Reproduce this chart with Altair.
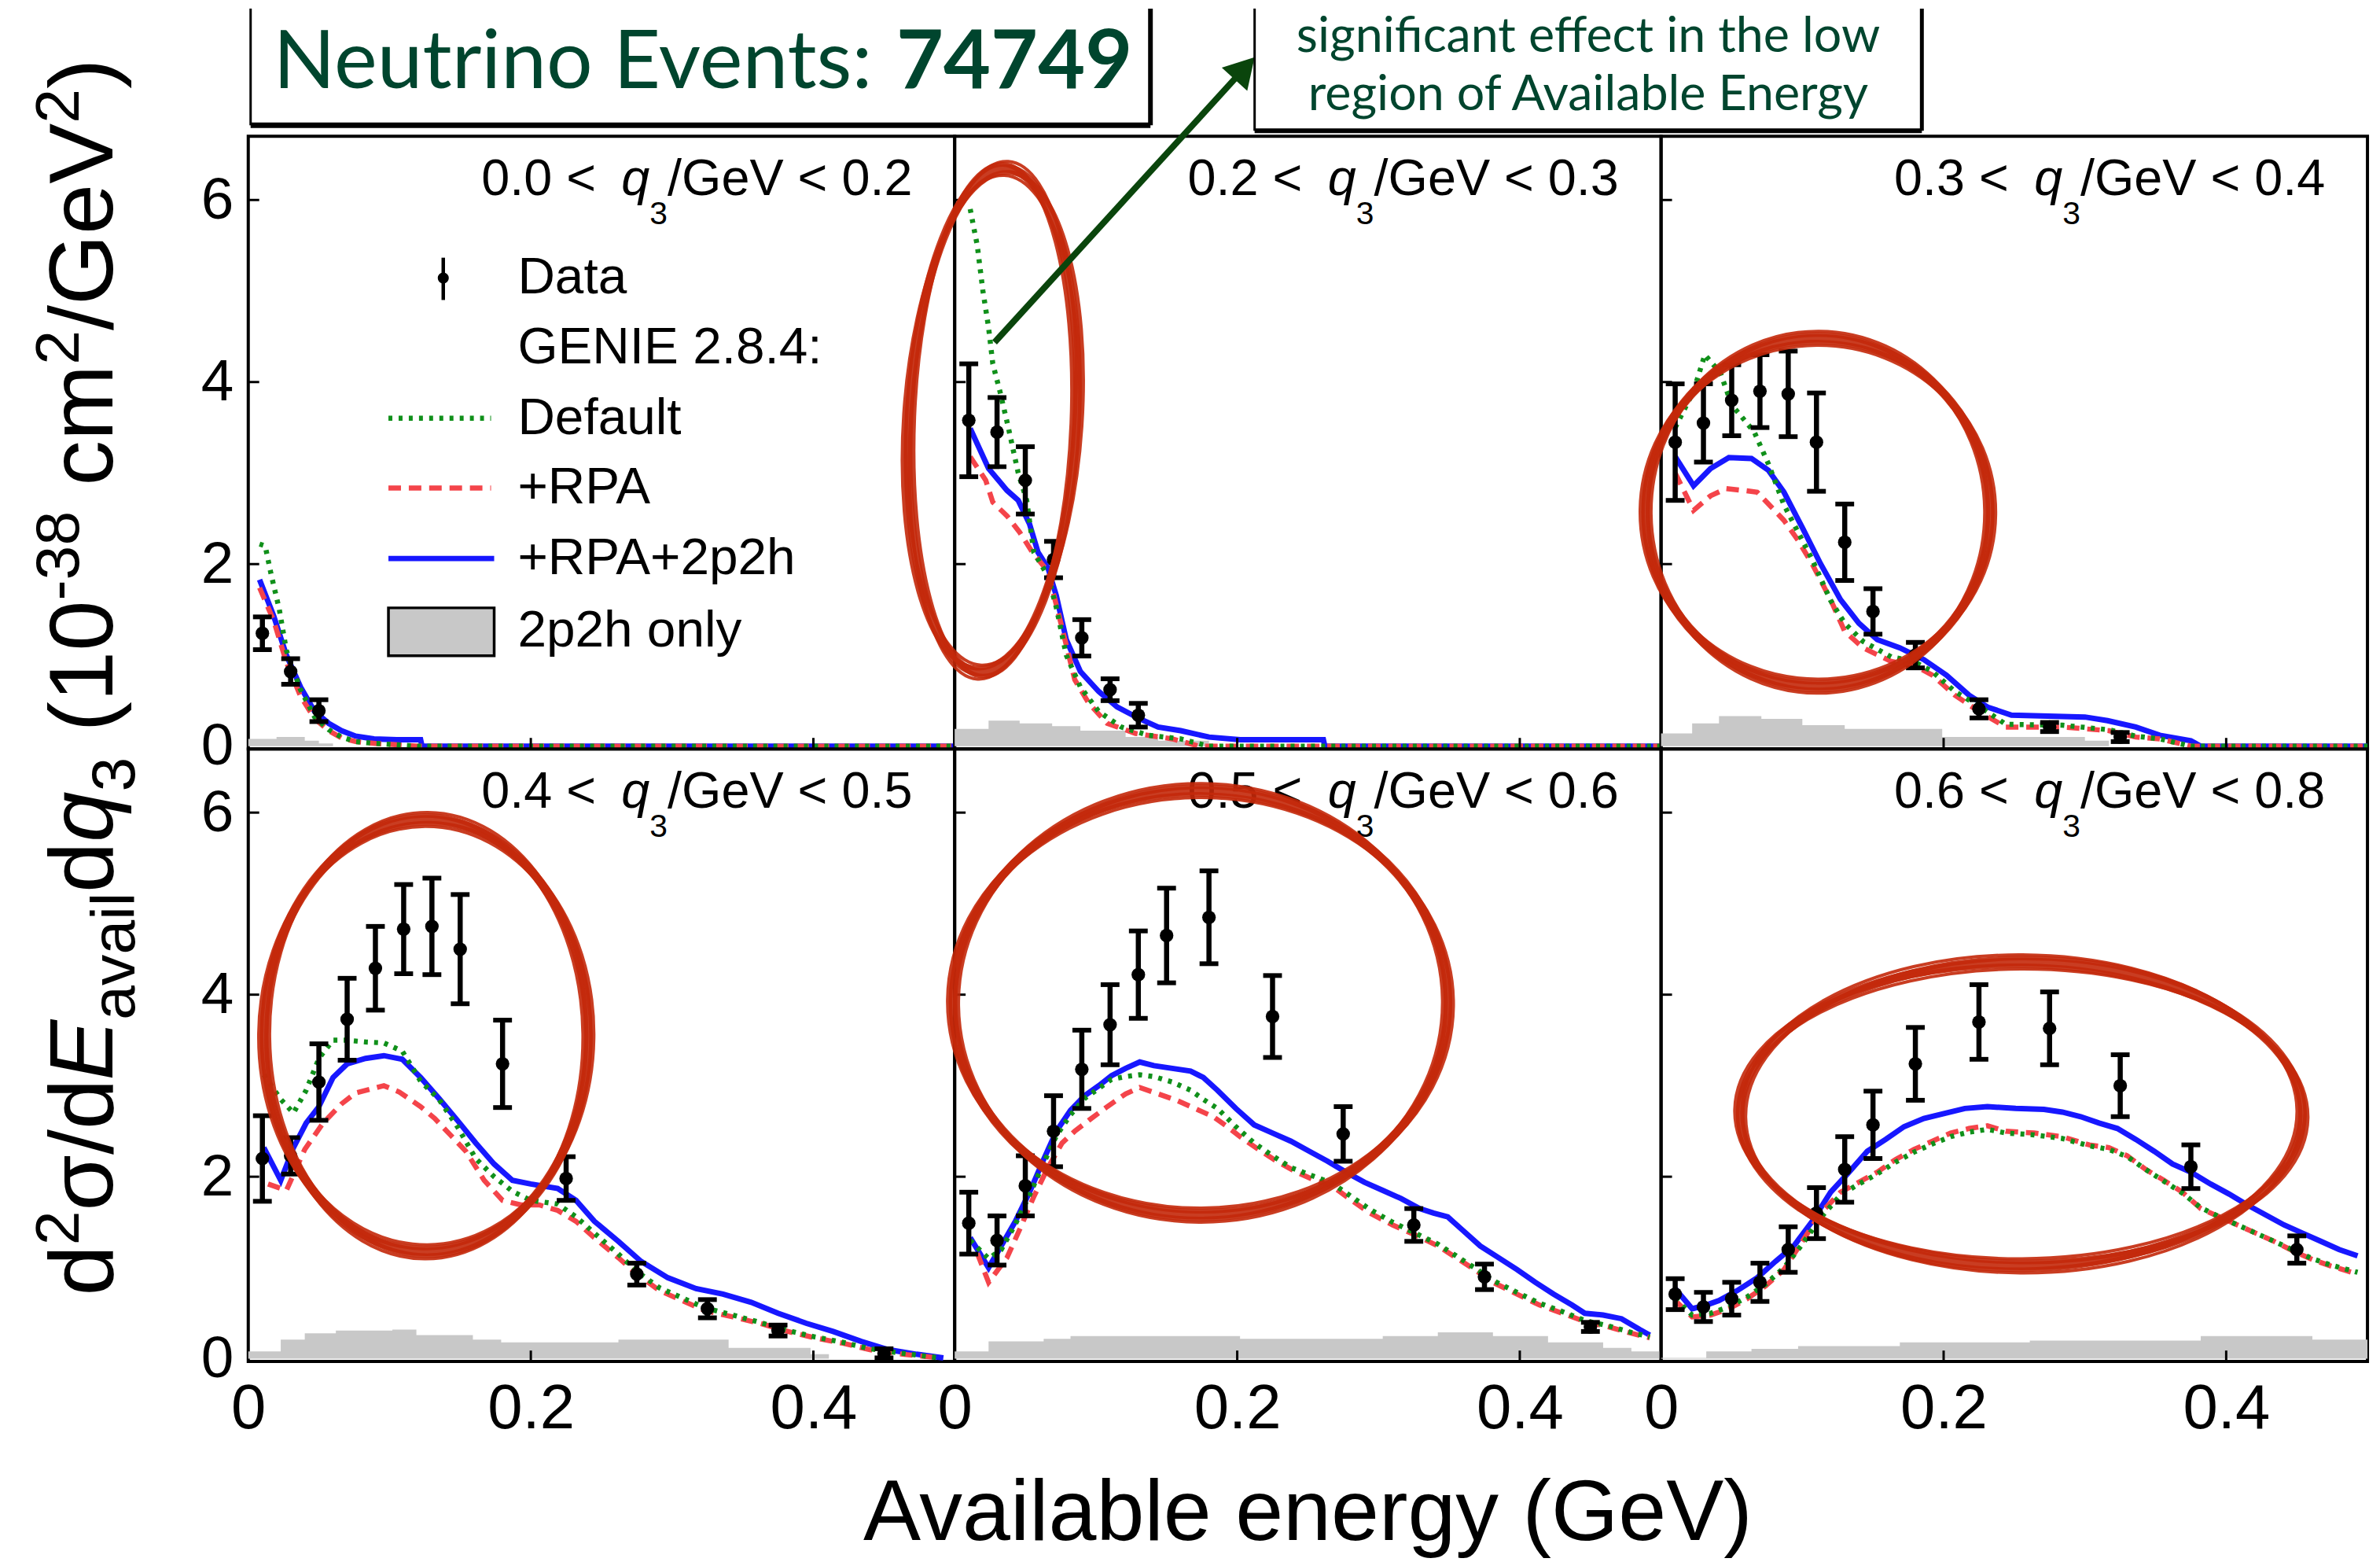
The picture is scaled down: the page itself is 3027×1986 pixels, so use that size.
import math
import altair as alt
import pandas as pd

FONT = "Liberation Sans"
NOTE_FONT = "Lato"

W, H = 902, 782                # size of one panel in pixels
X_DOMAIN = [0, 0.5]
Y_DOMAIN = [-0.03, 6.7]

BLUE = "#1717ff"
RED = "#f4444a"
GREEN = "#10901a"
GREY = "#c8c8c8"
INK_RED = "#c4290b"
NOTE_GREEN = "#00452e"
ARROW_GREEN = "#0a450c"

Q3_LOW = ["0.0", "0.2", "0.3", "0.4", "0.5", "0.6"]
Q3_HIGH = ["0.2", "0.3", "0.4", "0.5", "0.6", "0.8"]
Y_LABELS = [0, 2, 4, 6]
X_LABELS = [0, 0.2, 0.4]
Y_INNER_TICKS = [2, 4, 6]
X_INNER_TICKS = [0.2, 0.4]

# ---- 0.0 < q3 < 0.2 ----
DATA_X_1 = [0.01, 0.03, 0.05]
DATA_Y_1 = [1.24, 0.82, 0.39]
DATA_E_1 = [0.18, 0.14, 0.12]
BLUE_X_1 = [0.008, 0.018, 0.027, 0.037, 0.047, 0.057, 0.066, 0.076, 0.089, 0.105, 0.122, 0.123, 0.5]
BLUE_Y_1 = [1.83, 1.43, 1.0, 0.65, 0.38, 0.25, 0.17, 0.11, 0.08, 0.07, 0.07, 0.0, 0.0]
RED_X_1 = [0.008, 0.018, 0.027, 0.037, 0.047, 0.057, 0.066, 0.076, 0.09, 0.12, 0.5]
RED_Y_1 = [1.74, 1.38, 0.92, 0.55, 0.3, 0.17, 0.09, 0.05, 0.03, 0.0, 0.0]
GREEN_X_1 = [0.008, 0.012, 0.016, 0.022, 0.027, 0.037, 0.047, 0.057, 0.066, 0.076, 0.09, 0.12, 0.5]
GREEN_Y_1 = [2.22, 2.2, 1.9, 1.5, 1.05, 0.62, 0.32, 0.18, 0.1, 0.05, 0.03, 0.0, 0.0]
GREY_X_1 = [0.0, 0.02, 0.04, 0.05, 0.06]
GREY_Y_1 = [0.08, 0.1, 0.06, 0.03, 0.0]

# ---- 0.2 < q3 < 0.3 ----
DATA_X_2 = [0.01, 0.03, 0.05, 0.07, 0.09, 0.11, 0.13]
DATA_Y_2 = [3.58, 3.45, 2.92, 2.05, 1.19, 0.62, 0.34]
DATA_E_2 = [0.62, 0.38, 0.37, 0.2, 0.2, 0.12, 0.13]
BLUE_X_2 = [0.011, 0.024, 0.037, 0.045, 0.053, 0.059, 0.066, 0.072, 0.079, 0.089, 0.102, 0.115, 0.131, 0.144, 0.16, 0.18, 0.202, 0.261, 0.262, 0.5]
BLUE_Y_2 = [3.49, 3.05, 2.81, 2.7, 2.44, 2.13, 1.96, 1.65, 1.17, 0.82, 0.6, 0.43, 0.3, 0.21, 0.17, 0.1, 0.07, 0.07, 0.0, 0.0]
RED_X_2 = [0.011, 0.022, 0.027, 0.037, 0.046, 0.055, 0.066, 0.076, 0.085, 0.095, 0.108, 0.128, 0.154, 0.173, 0.5]
RED_Y_2 = [3.18, 2.92, 2.68, 2.53, 2.35, 2.13, 1.92, 1.3, 0.73, 0.47, 0.25, 0.14, 0.08, 0.0, 0.0]
GREEN_X_2 = [0.011, 0.016, 0.02, 0.024, 0.027, 0.032, 0.038, 0.045, 0.051, 0.056, 0.066, 0.072, 0.079, 0.089, 0.102, 0.118, 0.137, 0.16, 0.18, 0.5]
GREEN_Y_2 = [5.9, 5.5, 5.0, 4.6, 4.2, 3.9, 3.5, 3.0, 2.7, 2.13, 1.87, 1.52, 1.0, 0.65, 0.38, 0.21, 0.12, 0.08, 0.0, 0.0]
GREY_X_2 = [0.0, 0.024, 0.046, 0.069, 0.089, 0.121, 0.144, 0.18]
GREY_Y_2 = [0.19, 0.28, 0.25, 0.22, 0.17, 0.1, 0.06, 0.0]

# ---- 0.3 < q3 < 0.4 ----
DATA_X_3 = [0.01, 0.03, 0.05, 0.07, 0.09, 0.11, 0.13, 0.15, 0.18, 0.225, 0.275, 0.325]
DATA_Y_3 = [3.34, 3.55, 3.80, 3.90, 3.87, 3.34, 2.24, 1.48, 1.0, 0.41, 0.21, 0.10]
DATA_E_3 = [0.64, 0.43, 0.39, 0.40, 0.47, 0.54, 0.42, 0.25, 0.14, 0.1, 0.05, 0.05]
BLUE_X_3 = [0.010, 0.023, 0.035, 0.048, 0.064, 0.076, 0.087, 0.100, 0.113, 0.127, 0.140, 0.153, 0.169, 0.186, 0.202, 0.218, 0.231, 0.248, 0.300, 0.316, 0.336, 0.353, 0.375, 0.382, 0.5]
BLUE_Y_3 = [3.18, 2.86, 3.05, 3.17, 3.16, 3.03, 2.79, 2.4, 2.0, 1.61, 1.35, 1.17, 1.08, 0.95, 0.78, 0.56, 0.43, 0.34, 0.32, 0.28, 0.21, 0.12, 0.06, 0.0, 0.0]
RED_X_3 = [0.010, 0.023, 0.035, 0.046, 0.058, 0.068, 0.076, 0.087, 0.097, 0.107, 0.120, 0.130, 0.143, 0.163, 0.179, 0.192, 0.208, 0.225, 0.244, 0.284, 0.317, 0.336, 0.353, 0.375, 0.5]
RED_Y_3 = [3.0, 2.59, 2.75, 2.83, 2.81, 2.79, 2.66, 2.48, 2.26, 2.0, 1.61, 1.26, 1.08, 0.93, 0.89, 0.78, 0.56, 0.38, 0.21, 0.21, 0.17, 0.1, 0.08, 0.0, 0.0]
GREEN_X_3 = [0.010, 0.023, 0.031, 0.042, 0.050, 0.058, 0.066, 0.076, 0.087, 0.097, 0.107, 0.120, 0.130, 0.143, 0.163, 0.179, 0.192, 0.208, 0.225, 0.244, 0.284, 0.317, 0.336, 0.353, 0.375, 0.5]
GREEN_Y_3 = [3.5, 3.9, 4.3, 4.1, 3.75, 3.6, 3.45, 3.1, 2.65, 2.35, 2.05, 1.6, 1.35, 1.15, 0.98, 0.93, 0.82, 0.6, 0.44, 0.24, 0.23, 0.18, 0.11, 0.08, 0.0, 0.0]
GREY_X_3 = [0.0, 0.022, 0.041, 0.071, 0.100, 0.130, 0.199, 0.300, 0.317]
GREY_Y_3 = [0.14, 0.25, 0.33, 0.3, 0.23, 0.19, 0.1, 0.06, 0.0]

# ---- 0.4 < q3 < 0.5 ----
DATA_X_4 = [0.01, 0.03, 0.05, 0.07, 0.09, 0.11, 0.13, 0.15, 0.18, 0.225, 0.275, 0.325, 0.375, 0.45]
DATA_Y_4 = [2.2, 2.23, 3.04, 3.73, 4.29, 4.72, 4.75, 4.50, 3.24, 1.98, 0.93, 0.55, 0.31, 0.06]
DATA_E_4 = [0.47, 0.2, 0.42, 0.45, 0.46, 0.49, 0.53, 0.6, 0.48, 0.24, 0.12, 0.1, 0.06, 0.05]
BLUE_X_4 = [0.011, 0.023, 0.032, 0.041, 0.050, 0.060, 0.070, 0.083, 0.096, 0.109, 0.122, 0.135, 0.148, 0.161, 0.174, 0.187, 0.200, 0.219, 0.232, 0.245, 0.262, 0.278, 0.297, 0.317, 0.336, 0.356, 0.375, 0.395, 0.414, 0.434, 0.453, 0.473, 0.492]
BLUE_Y_4 = [2.32, 1.96, 2.32, 2.59, 2.77, 3.09, 3.24, 3.3, 3.33, 3.29, 3.09, 2.86, 2.62, 2.37, 2.14, 1.96, 1.92, 1.87, 1.74, 1.51, 1.29, 1.07, 0.89, 0.77, 0.71, 0.62, 0.5, 0.39, 0.3, 0.19, 0.1, 0.05, 0.01]
RED_X_4 = [0.014, 0.027, 0.040, 0.053, 0.066, 0.076, 0.096, 0.107, 0.122, 0.132, 0.143, 0.154, 0.167, 0.180, 0.193, 0.206, 0.219, 0.232, 0.245, 0.262, 0.275, 0.291, 0.307, 0.323, 0.343, 0.362, 0.382, 0.401, 0.421, 0.440, 0.463, 0.489]
RED_Y_4 = [1.92, 1.85, 2.3, 2.59, 2.8, 2.92, 3.0, 2.93, 2.77, 2.64, 2.46, 2.28, 1.96, 1.74, 1.69, 1.69, 1.63, 1.51, 1.33, 1.11, 0.93, 0.75, 0.64, 0.53, 0.46, 0.39, 0.3, 0.23, 0.17, 0.1, 0.05, 0.01]
GREEN_X_4 = [0.011, 0.023, 0.032, 0.041, 0.050, 0.060, 0.070, 0.083, 0.096, 0.109, 0.122, 0.135, 0.148, 0.161, 0.174, 0.187, 0.200, 0.219, 0.232, 0.245, 0.262, 0.275, 0.291, 0.307, 0.323, 0.343, 0.362, 0.382, 0.401, 0.421, 0.440, 0.463, 0.489]
GREEN_Y_4 = [3.12, 2.85, 2.7, 2.95, 3.3, 3.5, 3.5, 3.48, 3.47, 3.38, 3.05, 2.85, 2.55, 2.2, 2.0, 1.84, 1.74, 1.7, 1.56, 1.38, 1.15, 0.96, 0.78, 0.67, 0.56, 0.48, 0.4, 0.31, 0.24, 0.18, 0.11, 0.06, 0.01]
GREY_X_4 = [0.0, 0.023, 0.040, 0.062, 0.102, 0.119, 0.159, 0.179, 0.262, 0.340, 0.398, 0.411]
GREY_Y_4 = [0.08, 0.21, 0.28, 0.31, 0.32, 0.26, 0.21, 0.18, 0.21, 0.12, 0.05, 0.0]

# ---- 0.5 < q3 < 0.6 ----
DATA_X_5 = [0.01, 0.03, 0.05, 0.07, 0.09, 0.11, 0.13, 0.15, 0.18, 0.225, 0.275, 0.325, 0.375, 0.45]
DATA_Y_5 = [1.49, 1.30, 1.90, 2.50, 3.18, 3.67, 4.22, 4.65, 4.85, 3.76, 2.47, 1.47, 0.90, 0.35]
DATA_E_5 = [0.34, 0.27, 0.33, 0.39, 0.43, 0.44, 0.48, 0.52, 0.51, 0.45, 0.3, 0.18, 0.14, 0.05]
BLUE_X_5 = [0.011, 0.024, 0.033, 0.043, 0.053, 0.063, 0.072, 0.082, 0.092, 0.102, 0.111, 0.121, 0.131, 0.141, 0.154, 0.167, 0.176, 0.186, 0.199, 0.212, 0.225, 0.238, 0.251, 0.264, 0.277, 0.290, 0.303, 0.316, 0.329, 0.339, 0.349, 0.359, 0.372, 0.385, 0.398, 0.411, 0.424, 0.437, 0.446, 0.459, 0.472, 0.485, 0.492]
BLUE_Y_5 = [1.33, 1.0, 1.24, 1.51, 1.83, 2.19, 2.5, 2.73, 2.89, 3.0, 3.11, 3.19, 3.26, 3.22, 3.19, 3.16, 3.09, 2.95, 2.75, 2.57, 2.48, 2.39, 2.28, 2.17, 2.05, 1.94, 1.85, 1.76, 1.65, 1.6, 1.56, 1.42, 1.24, 1.11, 0.98, 0.84, 0.71, 0.59, 0.5, 0.48, 0.44, 0.32, 0.26]
RED_X_5 = [0.016, 0.024, 0.037, 0.046, 0.056, 0.066, 0.076, 0.085, 0.095, 0.108, 0.121, 0.131, 0.144, 0.157, 0.170, 0.183, 0.193, 0.202, 0.215, 0.228, 0.242, 0.255, 0.267, 0.281, 0.294, 0.310, 0.326, 0.342, 0.355, 0.368, 0.381, 0.398, 0.414, 0.430, 0.446, 0.463, 0.479, 0.492]
RED_Y_5 = [1.16, 0.84, 1.11, 1.42, 1.78, 2.1, 2.37, 2.5, 2.62, 2.77, 2.91, 2.98, 2.91, 2.84, 2.75, 2.66, 2.55, 2.44, 2.3, 2.17, 2.05, 1.96, 1.9, 1.74, 1.6, 1.47, 1.36, 1.24, 1.11, 0.98, 0.84, 0.71, 0.59, 0.5, 0.41, 0.35, 0.28, 0.23]
GREEN_X_5 = [0.011, 0.024, 0.033, 0.043, 0.053, 0.063, 0.072, 0.082, 0.092, 0.102, 0.111, 0.121, 0.131, 0.141, 0.154, 0.167, 0.176, 0.186, 0.199, 0.212, 0.225, 0.238, 0.255, 0.267, 0.281, 0.294, 0.310, 0.326, 0.342, 0.355, 0.368, 0.381, 0.398, 0.414, 0.430, 0.446, 0.463, 0.479, 0.492]
GREEN_Y_5 = [1.3, 1.1, 1.2, 1.48, 1.8, 2.15, 2.45, 2.68, 2.86, 2.97, 3.07, 3.1, 3.12, 3.1, 3.04, 2.95, 2.85, 2.75, 2.55, 2.37, 2.23, 2.1, 2.0, 1.93, 1.78, 1.64, 1.5, 1.38, 1.26, 1.13, 1.0, 0.86, 0.73, 0.61, 0.52, 0.42, 0.36, 0.29, 0.24]
GREY_X_5 = [0.0, 0.024, 0.063, 0.082, 0.202, 0.303, 0.342, 0.381, 0.420, 0.459, 0.479, 0.5]
GREY_Y_5 = [0.08, 0.19, 0.22, 0.25, 0.22, 0.25, 0.29, 0.25, 0.18, 0.12, 0.08, 0.08]

# ---- 0.6 < q3 < 0.8 ----
DATA_X_6 = [0.01, 0.03, 0.05, 0.07, 0.09, 0.11, 0.13, 0.15, 0.18, 0.225, 0.275, 0.325, 0.375, 0.45]
DATA_Y_6 = [0.71, 0.57, 0.66, 0.84, 1.2, 1.6, 2.08, 2.57, 3.24, 3.70, 3.63, 3.0, 2.11, 1.2]
DATA_E_6 = [0.17, 0.16, 0.18, 0.21, 0.25, 0.28, 0.36, 0.37, 0.40, 0.41, 0.4, 0.34, 0.24, 0.15]
BLUE_X_6 = [0.010, 0.022, 0.032, 0.041, 0.054, 0.068, 0.081, 0.094, 0.107, 0.120, 0.133, 0.146, 0.159, 0.172, 0.186, 0.199, 0.215, 0.231, 0.251, 0.271, 0.284, 0.297, 0.310, 0.323, 0.336, 0.349, 0.362, 0.375, 0.389, 0.402, 0.415, 0.428, 0.441, 0.454, 0.467, 0.480, 0.493]
BLUE_Y_6 = [0.77, 0.55, 0.59, 0.64, 0.75, 0.89, 1.07, 1.24, 1.51, 1.83, 2.05, 2.28, 2.41, 2.55, 2.64, 2.69, 2.75, 2.77, 2.75, 2.74, 2.71, 2.66, 2.59, 2.53, 2.41, 2.28, 2.14, 2.05, 1.92, 1.81, 1.69, 1.58, 1.47, 1.38, 1.29, 1.2, 1.13]
RED_X_6 = [0.010, 0.022, 0.035, 0.048, 0.061, 0.074, 0.087, 0.100, 0.113, 0.127, 0.140, 0.153, 0.166, 0.179, 0.192, 0.205, 0.218, 0.231, 0.244, 0.264, 0.284, 0.303, 0.317, 0.330, 0.343, 0.356, 0.369, 0.382, 0.395, 0.408, 0.421, 0.434, 0.448, 0.461, 0.474, 0.493]
RED_Y_6 = [0.64, 0.46, 0.48, 0.55, 0.66, 0.8, 0.98, 1.29, 1.6, 1.83, 1.94, 2.05, 2.19, 2.3, 2.39, 2.48, 2.53, 2.56, 2.5, 2.48, 2.44, 2.35, 2.32, 2.23, 2.08, 1.96, 1.83, 1.65, 1.56, 1.47, 1.38, 1.29, 1.18, 1.09, 1.02, 0.93]
GREEN_X_6 = [0.010, 0.022, 0.035, 0.048, 0.061, 0.074, 0.087, 0.100, 0.113, 0.127, 0.140, 0.153, 0.166, 0.179, 0.192, 0.205, 0.218, 0.231, 0.244, 0.264, 0.284, 0.303, 0.317, 0.330, 0.343, 0.356, 0.369, 0.382, 0.395, 0.408, 0.421, 0.434, 0.448, 0.461, 0.474, 0.493]
GREEN_Y_6 = [0.66, 0.48, 0.5, 0.57, 0.68, 0.82, 1.0, 1.26, 1.55, 1.8, 1.92, 2.03, 2.16, 2.27, 2.36, 2.44, 2.49, 2.52, 2.48, 2.46, 2.42, 2.34, 2.3, 2.22, 2.08, 1.95, 1.82, 1.66, 1.56, 1.47, 1.38, 1.29, 1.19, 1.1, 1.03, 0.95]
GREY_X_6 = [0.0, 0.032, 0.064, 0.097, 0.169, 0.261, 0.382, 0.461, 0.5]
GREY_Y_6 = [0.01, 0.08, 0.11, 0.14, 0.18, 0.2, 0.25, 0.21, 0.21]

# hand-drawn highlight rings (panels 2-6): centre in data units, half axes in px, tilt in degrees
HILITE_PANEL = [1, 2, 3, 4, 5]
HILITE_X = [0.027, 0.111, 0.126, 0.174, 0.255]
HILITE_Y = [3.58, 2.57, 3.55, 3.91, 2.69]
HILITE_RX = [107, 220, 207, 316, 359]
HILITE_RY = [322, 222, 276, 271, 194]
HILITE_TILT = [3, 0, 0, 0, 0]

EVENTS_LABEL = "Neutrino Events:"
EVENTS = "74749"
NOTE_LINES = ["significant effect in the low", "region of Available Energy"]
LEGEND_LABELS = ["Data", "GENIE 2.8.4:", "Default", "+RPA", "+RPA+2p2h", "2p2h only"]
X_TITLE = "Available energy (GeV)"

PANELS = [
    dict(pts=(DATA_X_1, DATA_Y_1, DATA_E_1), blue=(BLUE_X_1, BLUE_Y_1), red=(RED_X_1, RED_Y_1), green=(GREEN_X_1, GREEN_Y_1), grey=(GREY_X_1, GREY_Y_1)),
    dict(pts=(DATA_X_2, DATA_Y_2, DATA_E_2), blue=(BLUE_X_2, BLUE_Y_2), red=(RED_X_2, RED_Y_2), green=(GREEN_X_2, GREEN_Y_2), grey=(GREY_X_2, GREY_Y_2)),
    dict(pts=(DATA_X_3, DATA_Y_3, DATA_E_3), blue=(BLUE_X_3, BLUE_Y_3), red=(RED_X_3, RED_Y_3), green=(GREEN_X_3, GREEN_Y_3), grey=(GREY_X_3, GREY_Y_3)),
    dict(pts=(DATA_X_4, DATA_Y_4, DATA_E_4), blue=(BLUE_X_4, BLUE_Y_4), red=(RED_X_4, RED_Y_4), green=(GREEN_X_4, GREEN_Y_4), grey=(GREY_X_4, GREY_Y_4)),
    dict(pts=(DATA_X_5, DATA_Y_5, DATA_E_5), blue=(BLUE_X_5, BLUE_Y_5), red=(RED_X_5, RED_Y_5), green=(GREEN_X_5, GREEN_Y_5), grey=(GREY_X_5, GREY_Y_5)),
    dict(pts=(DATA_X_6, DATA_Y_6, DATA_E_6), blue=(BLUE_X_6, BLUE_Y_6), red=(RED_X_6, RED_Y_6), green=(GREEN_X_6, GREEN_Y_6), grey=(GREY_X_6, GREY_Y_6)),
]

LINE_W = 6.5

# advance widths (em) of the sans font, used to set sub/superscripts beside their base text
ADV = {"0": .556, "1": .556, "2": .556, "3": .556, "4": .556, "5": .556, "6": .556,
       "7": .556, "8": .556, "9": .556, ".": .278, " ": .278, "<": .584, "/": .278,
       "G": .778, "e": .556, "V": .667, "d": .556, "σ": .6, "E": .667, "a": .556,
       "v": .5, "i": .222, "l": .222, "q": .556, "(": .333, ")": .333, "-": .333,
       "c": .5, "m": .833}


def adv(s, size):
    return sum(ADV[c] for c in s) * size


def one():
    return pd.DataFrame({"k": [0]})


def pixel_text(rows, **mark):
    df = pd.DataFrame(rows, columns=["px", "py", "txt", "fs"])
    return alt.Chart(df).mark_text(**mark).encode(
        x=alt.X("px:Q", scale=None), y=alt.Y("py:Q", scale=None),
        text="txt:N", size=alt.Size("fs:Q", scale=None, legend=None))


def pixel_rule(x, y, x2, y2, color, width, dash=None):
    kw = dict(color=color, strokeWidth=width)
    if dash:
        kw["strokeDash"] = dash
    return alt.Chart(one()).mark_rule(**kw).encode(
        x=alt.value(x), y=alt.value(y), x2=alt.value(x2), y2=alt.value(y2))


# ---- panel title  "lo <  q_3/GeV < hi" ----
T_F, T_SF = 65, 41
T_RIGHT, T_BASE, T_SUB_BASE = 848, 75, 112


def title_layers(lo, hi):
    right = f"/GeV < {hi}"
    x_sub = T_RIGHT - adv(right, T_F)
    x_q = x_sub - adv("3", T_SF)
    x_lo = x_q - adv("q", T_F) - 1.8 * adv(" ", T_F)
    plain = pixel_text([(T_RIGHT, T_BASE, right, T_F), (x_sub, T_SUB_BASE, "3", T_SF),
                        (x_lo, T_BASE, f"{lo} <", T_F)],
                       font=FONT, align="right", baseline="alphabetic", color="black")
    ital = pixel_text([(x_q, T_BASE, "q", T_F)], font=FONT, fontStyle="italic",
                      align="right", baseline="alphabetic", color="black")
    return [plain, ital]


# ---- rotated y title, built bottom-to-top ----
YT_F, YT_SF = 116, 79
YT_BASE_X, YT_START_Y = -173, 1480
YT_PIECES = [("d", "n"), ("2", "sup"), ("σ/d", "n"), ("E", "i"), ("avail", "sub"),
             ("d", "n"), ("q", "i"), ("3", "sub"), (" ", "gap"), ("(10", "n"),
             ("-38", "sup"), (" ", "gap"), ("cm", "n"), ("2", "sup"), ("/GeV", "n"),
             ("2", "sup"), (")", "n")]


def ytitle_layers():
    y = YT_START_Y
    plain, ital = [], []
    for txt, kind in YT_PIECES:
        small = kind in ("sup", "sub")
        size = YT_SF if small else YT_F
        if kind == "gap":
            y -= adv(txt, YT_F)
            continue
        x = YT_BASE_X + (-0.38 * YT_F if kind == "sup" else 0.24 * YT_F if kind == "sub" else 0)
        (ital if kind == "i" else plain).append((x, y, txt, size))
        y -= adv(txt, size)
    common = dict(font=FONT, angle=270, align="left", baseline="alphabetic", color="black")
    return [pixel_text(plain, **common), pixel_text(ital, fontStyle="italic", **common)]


def legend_layers():
    rows = [(344, yy, lab, 66) for lab, yy in zip(LEGEND_LABELS, [181, 270, 360, 449, 539, 631])]
    return [
        pixel_rule(249, 155, 249, 209, "black", 4.5),
        alt.Chart(one()).mark_point(filled=True, size=200, color="black", opacity=1).encode(
            x=alt.value(249), y=alt.value(181)),
        pixel_rule(179, 360, 310, 360, GREEN, LINE_W, [5, 8]),
        pixel_rule(179, 449, 310, 449, RED, LINE_W, [16, 10]),
        pixel_rule(179, 539, 314, 539, BLUE, LINE_W + 0.5),
        alt.Chart(one()).mark_rect(color=GREY, stroke="black", strokeWidth=3.5).encode(
            x=alt.value(179), x2=alt.value(314), y=alt.value(602), y2=alt.value(663)),
        pixel_text(rows, font=FONT, align="left", baseline="middle", color="black"),
    ]


def events_box_layers():
    return [
        pixel_rule(3, -163, 3, -14, "black", 3),
        pixel_rule(1152, -163, 1152, -14, "black", 6),
        pixel_rule(3, -14, 1152, -14, "black", 7),
        pixel_text([(32, -61, EVENTS_LABEL, 104)], font=NOTE_FONT, align="left",
                   baseline="alphabetic", color=NOTE_GREEN),
        pixel_text([(1129, -61, EVENTS, 104)], font=NOTE_FONT, fontWeight="bold",
                   align="right", baseline="alphabetic", color=NOTE_GREEN),
    ]


def note_box_layers():
    tail, tip = (51, 263), (383, -101)
    dx, dy = tip[0] - tail[0], tip[1] - tail[1]
    n = math.hypot(dx, dy)
    ux, uy = dx / n, dy / n
    r = 22
    h = math.sqrt(3) * r / 2
    cx, cy = tip[0] - h * ux, tip[1] - h * uy
    head_angle = math.degrees(math.atan2(ux, -uy)) % 360
    return [
        pixel_rule(tail[0], tail[1], cx, cy, ARROW_GREEN, 8),
        alt.Chart(one()).mark_point(shape="triangle-up", filled=True, size=(2 * r) ** 2,
                                    angle=head_angle, color=ARROW_GREEN, opacity=1).encode(
            x=alt.value(cx), y=alt.value(cy)),
        pixel_rule(383, -163, 383, -7, "black", 3),
        pixel_rule(1235, -163, 1235, -7, "black", 5),
        pixel_rule(383, -7, 1235, -7, "black", 6),
        pixel_text([(809, -108, NOTE_LINES[0], 63), (809, -33, NOTE_LINES[1], 63)],
                   font=NOTE_FONT, align="center", baseline="alphabetic", color=NOTE_GREEN),
    ]


# several slightly offset strokes give the rings a hand-drawn, marker-pen look
RING_PASSES = [(0, 0, 0.0, 11), (-6, 5, -0.7, 6), (6, -5, 0.8, 6), (-2, 9, 0.4, 4), (3, -9, -0.3, 4)]


def ring_frame(i):
    rows = []
    for drx, dry, da, sw in RING_PASSES:
        rx = HILITE_RX[i] + drx
        ry = HILITE_RY[i] + dry
        r = ry / rx
        path = f"M-1,0A1,{r:.4f},0,1,1,1,0A1,{r:.4f},0,1,1,-1,0Z"
        rows.append(dict(x=HILITE_X[i], y=HILITE_Y[i], path=path, size=4 * rx ** 2,
                         angle=(HILITE_TILT[i] + da) % 360, sw=sw))
    return pd.DataFrame(rows)


def build_panel(k):
    p = PANELS[k]
    left, bottom = k % 3 == 0, k >= 3
    xs = alt.Scale(domain=X_DOMAIN, nice=False, zero=False)
    ys = alt.Scale(domain=Y_DOMAIN, nice=False, zero=False)
    xa = alt.Axis(values=X_LABELS, labelExpr="datum.value == 0 ? '0' : format(datum.value, '.1f')",
                  labelFontSize=80, labelFont=FONT, labelColor="black", labelPadding=22,
                  labelFlush=False, labelOverlap=False, ticks=False, tickSize=0,
                  domain=False, grid=False, title=None) if bottom else None
    ya = alt.Axis(values=Y_LABELS, labelFontSize=75, labelFont=FONT, labelColor="black",
                  labelPadding=19, labelFlush=False, labelOverlap=False, ticks=False,
                  tickSize=0, domain=False, grid=False, title=None) if left else None

    def X(f):
        return alt.X(f, type="quantitative", scale=xs, axis=xa, title=None)

    def Y(f):
        return alt.Y(f, type="quantitative", scale=ys, axis=ya, title=None)

    def curve(xy):
        return pd.DataFrame({"x": xy[0], "y": xy[1]})

    dx, dy, de = p["pts"]
    pts = pd.DataFrame({"x": dx, "y": dy, "lo": [a - b for a, b in zip(dy, de)],
                        "hi": [a + b for a, b in zip(dy, de)]})

    layers = [
        alt.Chart(curve(p["grey"])).mark_area(color=GREY, interpolate="step-after").encode(
            x=X("x"), y=Y("y"), y2=alt.datum(0)),
        alt.Chart(curve(p["blue"])).mark_line(color=BLUE, strokeWidth=LINE_W + 0.5).encode(
            x=X("x"), y=Y("y")),
        alt.Chart(curve(p["red"])).mark_line(color=RED, strokeWidth=LINE_W, strokeDash=[16, 10]).encode(
            x=X("x"), y=Y("y")),
        alt.Chart(curve(p["green"])).mark_line(color=GREEN, strokeWidth=LINE_W, strokeDash=[5, 8]).encode(
            x=X("x"), y=Y("y")),
        alt.Chart(pts).mark_rule(color="black", strokeWidth=6.5).encode(
            x=X("x"), y=Y("lo"), y2="hi:Q"),
        alt.Chart(pts).mark_tick(orient="horizontal", size=24, thickness=6, color="black",
                                 opacity=1).encode(x=X("x"), y=Y("lo")),
        alt.Chart(pts).mark_tick(orient="horizontal", size=24, thickness=6, color="black",
                                 opacity=1).encode(x=X("x"), y=Y("hi")),
        alt.Chart(pts).mark_point(filled=True, size=300, color="black", opacity=1).encode(
            x=X("x"), y=Y("y")),
        alt.Chart(pd.DataFrame({"v": Y_INNER_TICKS})).mark_rule(color="black", strokeWidth=3).encode(
            y=Y("v"), x=alt.value(0), x2=alt.value(14)),
        alt.Chart(pd.DataFrame({"v": X_INNER_TICKS})).mark_rule(color="black", strokeWidth=3).encode(
            x=X("v"), y=alt.value(H), y2=alt.value(H - 14)),
    ]
    layers += title_layers(Q3_LOW[k], Q3_HIGH[k])

    if k in HILITE_PANEL:
        i = HILITE_PANEL.index(k)
        layers.append(
            alt.Chart(ring_frame(i)).mark_point(filled=False, color=INK_RED, opacity=0.9).encode(
                x=X("x"), y=Y("y"),
                shape=alt.Shape("path:N", scale=None, legend=None),
                size=alt.Size("size:Q", scale=None, legend=None),
                angle=alt.Angle("angle:Q", scale=None, legend=None),
                strokeWidth=alt.StrokeWidth("sw:Q", scale=None, legend=None)))

    if k == 0:
        # transparent frame spanning the whole page, so the grid sits at a fixed offset
        layers.append(alt.Chart(one()).mark_rect(opacity=0).encode(
            x=alt.value(-315), x2=alt.value(2712), y=alt.value(-168), y2=alt.value(1818)))
        layers += legend_layers()
        layers += events_box_layers()
        layers += ytitle_layers()
    if k == 1:
        layers += note_box_layers()
    if k == 4:
        layers.append(pixel_text([(W / 2, 1010, X_TITLE, 110)], font=FONT, align="center",
                                 baseline="alphabetic", color="black"))

    return alt.layer(*layers).properties(width=W, height=H)


chart = (
    alt.concat(*[build_panel(k) for k in range(6)], columns=3, spacing=0, bounds="flush")
    .properties(padding=0)
    .configure(font=FONT, background="white")
    .configure_view(stroke="black", strokeWidth=4)
)

chart.save("out.html", embed_options={"renderer": "svg", "actions": False})
